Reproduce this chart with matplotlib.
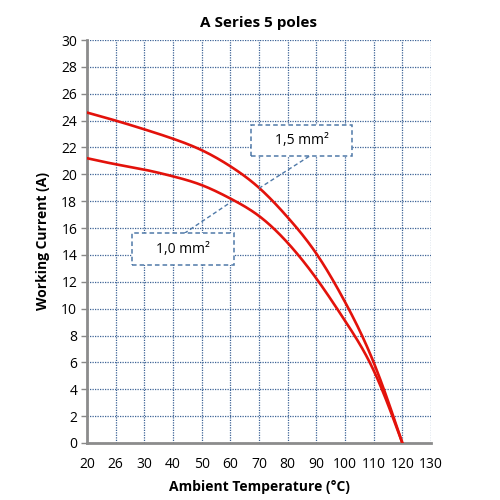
import numpy as np
import matplotlib
matplotlib.use("Agg")
import matplotlib.pyplot as plt
from matplotlib.patches import Rectangle

plt.rcParams['font.family'] = ['Open Sans', 'DejaVu Sans']

# category axis (Excel style: equally spaced labels)
temp_labels = ['20', '26', '30', '40', '50', '60', '70', '80', '90', '100', '110', '120', '130']
current_15 = [24.6, 24.0, 23.35, 22.65, 21.8, 20.6, 19.0, 16.8, 14.1, 10.5, 6.0, 0.0]
current_10 = [21.2, 20.75, 20.35, 19.85, 19.2, 18.2, 16.9, 14.9, 12.25, 9.1, 5.4, 0.0]
y_ticks = list(range(0, 31, 2))


def smooth(y, n=30):
    # natural cubic spline through the read points (unit spacing)
    y = np.asarray(y, dtype=float)
    k = len(y)
    A = np.zeros((k, k))
    b = np.zeros(k)
    A[0, 0] = A[-1, -1] = 1
    for i in range(1, k - 1):
        A[i, i - 1], A[i, i], A[i, i + 1] = 1, 4, 1
        b[i] = 6 * (y[i + 1] - 2 * y[i] + y[i - 1])
    M = np.linalg.solve(A, b)
    xs, ys = [], []
    t = np.linspace(0, 1, n, endpoint=False)
    for i in range(k - 1):
        xs.extend(i + t)
        ys.extend((1 - t) * y[i] + t * y[i + 1]
                  + ((1 - t) ** 3 - (1 - t)) * M[i] / 6 + (t ** 3 - t) * M[i + 1] / 6)
    xs.append(k - 1); ys.append(y[-1])
    return np.array(xs), np.array(ys)


fig = plt.figure(figsize=(5, 5), dpi=100)
ax = fig.add_axes([0.174, 0.114, 0.688, 0.806])

for vals in (current_15, current_10):
    sx, sy = smooth(vals)
    ax.plot(sx, sy, color='#e3120b', lw=1.9, solid_capstyle='round', zorder=3)

ax.set_xlim(0, len(temp_labels) - 1)
ax.set_ylim(0, 30)
ax.set_xticks(range(len(temp_labels)))
ax.set_xticklabels(temp_labels)
ax.set_yticks(y_ticks)
ax.tick_params(axis='x', length=0, pad=10, labelsize=10)
ax.tick_params(axis='y', length=4, width=1, color='#888888', labelsize=10, pad=3)

ax.grid(True, color='#3d6396', linestyle=(0, (1, 1)), linewidth=0.9)
ax.set_axisbelow(True)
for s in ('top', 'right'):
    ax.spines[s].set_visible(False)
for s in ('left', 'bottom'):
    ax.spines[s].set_color('#8c8c8c')
    ax.spines[s].set_linewidth(2)

ax.set_title('A Series 5 poles', fontsize=11, fontweight='bold', pad=9)
ax.set_xlabel('Ambient Temperature (°C)', fontsize=10, fontweight='bold', labelpad=6)
ax.set_ylabel('Working Current (A)', fontsize=10, fontweight='bold', labelpad=8)

blue = '#4f79a8'
ax.plot([7.75, 6.0], [21.34, 18.96], color=blue, lw=1, ls=(0, (3, 2)), zorder=4)
ax.plot([3.39, 5.06], [15.6, 17.99], color=blue, lw=1, ls=(0, (3, 2)), zorder=4)
for (x0, y0, w, h, label) in [(5.72, 21.34, 3.53, 2.32, '1,5 mm²'),
                               (1.57, 13.28, 3.56, 2.32, '1,0 mm²')]:
    ax.add_patch(Rectangle((x0, y0), w, h, fc='white', ec=blue, lw=1.1,
                           ls=(0, (3, 2)), zorder=5))
    ax.text(x0 + w / 2, y0 + h / 2, label, ha='center', va='center',
            fontsize=10, zorder=6)

fig.savefig('out.png', dpi=100)
